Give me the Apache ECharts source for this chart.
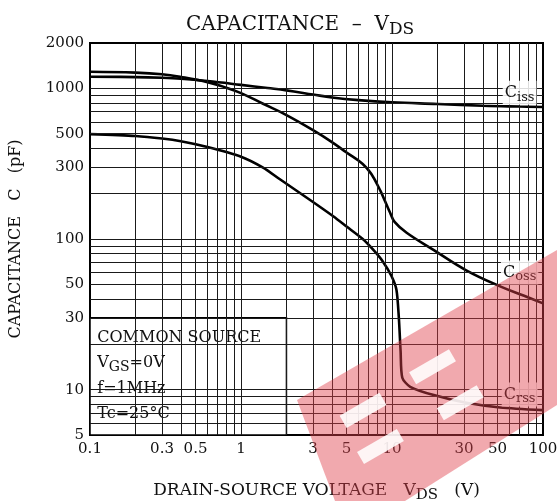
<!DOCTYPE html>
<html>
<head>
<meta charset="utf-8">
<script src="https://cdn.jsdelivr.net/npm/echarts@6/dist/echarts.min.js"></script>
<style>
  html, body { margin: 0; padding: 0; background: #fff; }
  #chart { width: 557px; height: 501px; }
</style>
</head>
<body>
<div id="chart"></div>
<script>
// values: [VDS (V), C (pF)]
const ciss = [
  [0.1, 1195], [0.2, 1188], [0.3, 1175], [0.4, 1158], [0.6, 1118], [1, 1055],
  [1.5, 1005], [2, 970], [3, 910], [4, 870], [6, 835], [10, 808],
  [20, 788], [40, 767], [70, 757], [100, 752]
]
const coss = [
  [0.1, 1290], [0.2, 1272], [0.3, 1240], [0.4, 1190], [0.6, 1100], [0.8, 1010],
  [1, 930], [1.4, 790], [2, 665], [3, 528], [4, 440], [5, 375], [6.4, 315],
  [7.3, 270], [8.4, 208], [9, 178], [9.7, 150], [10.4, 130], [12.5, 110],
  [18.7, 85], [31, 62], [52, 48.5], [75, 42], [100, 37.4]
]
const crss = [
  [0.1, 497], [0.2, 483], [0.3, 465], [0.4, 446], [0.6, 408], [1, 352],
  [1.4, 298], [1.8, 250], [2.9, 180], [4.1, 141], [5, 121], [6.4, 100],
  [7.5, 85], [8.6, 72], [9.9, 57], [10.7, 46], [11.1, 30], [11.4, 18],
  [11.7, 12], [13.2, 10.45], [18.9, 9.2], [31, 8.18], [52, 7.62], [100, 7.31]
]

const xTicks = [0.1, 0.3, 0.5, 1, 3, 5, 10, 30, 50, 100]
const yTicks = [5, 10, 30, 50, 100, 300, 500, 1000, 2000]
const gridX = [0.2, 0.3, 0.4, 0.5, 0.6, 0.7, 0.8, 0.9, 1, 2, 3, 4, 5, 6, 7, 8, 9, 10, 20, 30, 40, 50, 60, 70, 80, 90]
const gridY = [6, 7, 8, 9, 10, 20, 30, 40, 50, 60, 70, 80, 90, 100, 200, 300, 400, 500, 600, 700, 800, 900, 1000]

// label anchors [VDS, C] and the conditions box corners
const cissLabelAt = [70, 935]
const cossLabelAt = [70, 60]
const crssLabelAt = [70, 9.3]
const condBox = [[0.1, 30], [2, 5]]

const serif = "'DejaVu Serif', 'Liberation Serif', serif"
const ink = '#111'

const subLabel = (sub) => ({
  show: true,
  position: 'inside',
  formatter: '{c|C}{s|' + sub + '}',
  backgroundColor: 'rgba(255,255,255,0.85)',
  padding: [1, 2, 1, 2],
  rich: {
    c: { fontFamily: serif, fontSize: 16, color: ink },
    s: { fontFamily: serif, fontSize: 13, color: ink, padding: [9, 0, 0, 0] }
  }
})

const curve = (name, data, labelAt, sub, smooth) => ({
  name,
  type: 'line',
  data,
  z: 3,
  showSymbol: false,
  smooth,
  lineStyle: { color: '#000', width: 2.6 },
  silent: true,
  markPoint: {
    silent: true,
    symbol: 'rect',
    symbolSize: 1,
    itemStyle: { color: 'rgba(0,0,0,0)' },
    label: subLabel(sub),
    data: [{ coord: labelAt }]
  }
})

const hole = (x, y) => ({
  type: 'rect',
  z: 101,
  shape: { x, y, width: 46, height: 14 },
  style: { fill: 'rgba(255,255,255,0.88)' }
})

const chart = echarts.init(document.getElementById('chart'), null, { renderer: 'canvas' })

chart.setOption({
  animation: false,
  backgroundColor: '#fff',
  title: {
    text: '{a|CAPACITANCE  –  V}{s|DS}',
    left: 181,
    top: 6,
    textStyle: {
      rich: {
        a: { fontFamily: serif, fontSize: 20, fontWeight: 'normal', color: ink },
        s: { fontFamily: serif, fontSize: 17, fontWeight: 'normal', color: ink, padding: [10, 0, 0, 0] }
      }
    }
  },
  grid: {
    left: 90, right: 14, top: 43, bottom: 66,
    outerBoundsMode: 'none',
    containLabel: false,
    show: true, borderColor: '#000', borderWidth: 2
  },
  xAxis: {
    type: 'log',
    logBase: 10,
    min: 0.1,
    max: 100,
    name: '{a|DRAIN-SOURCE VOLTAGE   V}{s|DS}{a|   (V)}',
    nameLocation: 'middle',
    nameGap: 44,
    nameTextStyle: {
      rich: {
        a: { fontFamily: serif, fontSize: 17, color: ink },
        s: { fontFamily: serif, fontSize: 15, color: ink, padding: [9, 0, 0, 0] }
      }
    },
    axisLine: { show: true, lineStyle: { color: '#000', width: 2 } },
    axisTick: { show: false },
    splitLine: { show: false },
    axisLabel: {
      customValues: xTicks,
      fontFamily: serif,
      fontSize: 15,
      color: ink,
      margin: 7,
      formatter: (v) => String(v)
    }
  },
  yAxis: {
    type: 'log',
    logBase: 10,
    min: 5,
    max: 2000,
    name: 'CAPACITANCE   C   (pF)',
    nameLocation: 'middle',
    nameGap: 66,
    nameTextStyle: { fontFamily: serif, fontSize: 16, color: ink },
    axisLine: { show: true, lineStyle: { color: '#000', width: 2 } },
    axisTick: { show: false },
    splitLine: { show: false },
    axisLabel: {
      customValues: yTicks,
      fontFamily: serif,
      fontSize: 15,
      color: ink,
      margin: 6,
      formatter: (v) => String(v)
    }
  },
  series: [
    {
      name: 'grid',
      type: 'line',
      data: [],
      z: 1,
      silent: true,
      markLine: {
        silent: true,
        symbol: ['none', 'none'],
        label: { show: false },
        lineStyle: { color: '#1a1a1a', width: 1, type: 'solid' },
        data: gridX.map(v => ({ xAxis: v })).concat(gridY.map(v => ({ yAxis: v })))
      }
    },
    {
      name: 'conditions',
      type: 'line',
      data: [],
      z: 2,
      silent: true,
      markArea: {
        silent: true,
        itemStyle: { color: '#fff', borderColor: '#000', borderWidth: 1.5 },
        label: {
          show: true,
          position: 'insideTopLeft',
          distance: 8,
          formatter: '{a|COMMON SOURCE}\n{a|V}{s|GS}{a|=0V}\n{a|f=1MHz}\n{a|Tc=25°C}',
          rich: {
            a: { fontFamily: serif, fontSize: 16, color: ink, lineHeight: 25.5 },
            s: { fontFamily: serif, fontSize: 14, color: ink, lineHeight: 25.5, padding: [9, 0, 0, 0] }
          }
        },
        data: [[{ coord: condBox[0] }, { coord: condBox[1] }]]
      }
    },
    curve('Ciss', ciss, cissLabelAt, 'iss', 0.4),
    curve('Coss', coss, cossLabelAt, 'oss', 0.4),
    curve('Crss', crss, crssLabelAt, 'rss', 0.25)
  ],
  // red stamp overlaid on the scanned datasheet
  graphic: [
    {
      type: 'polygon',
      z: 100,
      silent: true,
      shape: { points: [[297, 400], [557, 250], [557, 405], [405, 501], [335, 501]] },
      style: { fill: 'rgba(224,64,76,0.45)' }
    },
    {
      type: 'group',
      x: 297,
      y: 400,
      rotation: Math.PI / 6,
      z: 101,
      silent: true,
      children: [hole(29, 35), hole(26, 75), hole(111, 32), hole(117, 77)]
    }
  ]
})
</script>
</body>
</html>
